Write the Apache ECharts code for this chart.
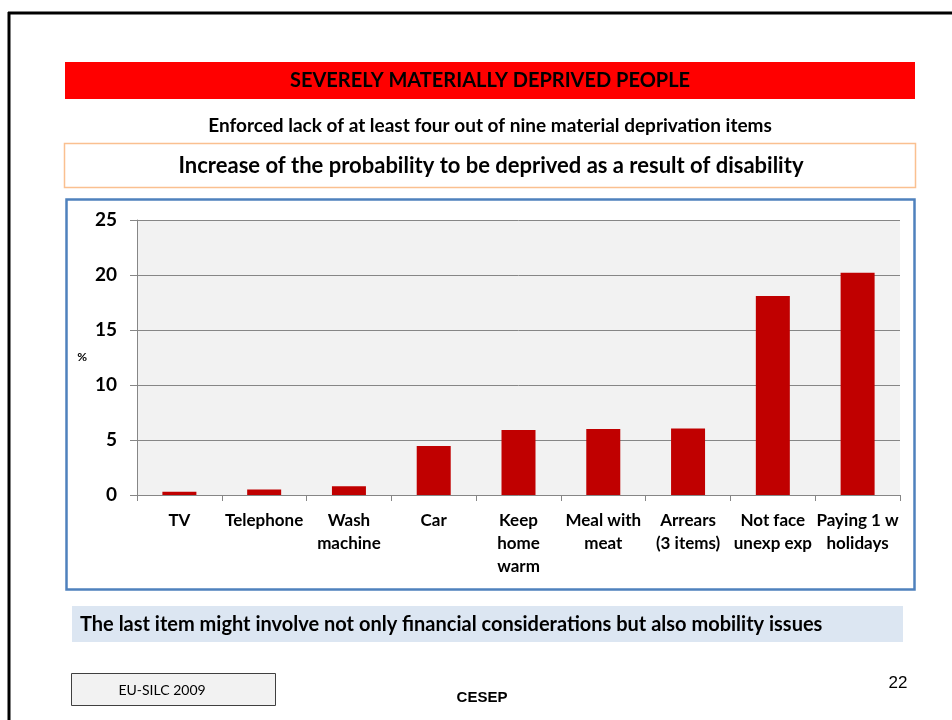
<!DOCTYPE html>
<html>
<head>
<meta charset="utf-8">
<script src="https://cdn.jsdelivr.net/npm/echarts@6/dist/echarts.min.js"></script>
<style>
html,body{margin:0;padding:0;background:#fff;}
#chart{width:952px;height:720px;}
</style>
</head>
<body>
<div id="chart"></div>
<script>
var categories = ['TV', 'Telephone', 'Wash\nmachine', 'Car', 'Keep\nhome\nwarm', 'Meal with\nmeat', 'Arrears\n(3 items)', 'Not face\nunexp exp', 'Paying 1 w\nholidays'];
var values = [0.3, 0.5, 0.8, 4.45, 5.9, 6.0, 6.05, 18.1, 20.2];
var yTicks = [0, 5, 10, 15, 20, 25];

var FONT = 'Lato, "Open Sans", sans-serif';
var chart = echarts.init(document.getElementById('chart'), null, {renderer: 'canvas'});
chart.setOption({
  backgroundColor: '#ffffff',
  animation: false,
  grid: {left: 137, right: 52, top: 220, bottom: 225, show: true, backgroundColor: '#f2f2f2', borderWidth: 0},
  xAxis: {
    type: 'category',
    data: categories,
    axisLine: {lineStyle: {color: '#868686', width: 1}},
    axisTick: {show: true, length: 6, lineStyle: {color: '#868686'}},
    axisLabel: {interval: 0, color: '#000', fontWeight: 'bold', fontSize: 17, fontFamily: FONT, lineHeight: 23, margin: 14}
  },
  yAxis: {
    type: 'value',
    min: yTicks[0], max: yTicks[yTicks.length - 1], interval: 5,
    name: '%',
    nameLocation: 'middle',
    nameRotate: 0,
    nameGap: 50,
    nameTextStyle: {color: '#000', fontWeight: 'bold', fontSize: 12, fontFamily: FONT},
    axisLine: {show: true, lineStyle: {color: '#868686', width: 1}},
    axisTick: {show: true, length: 7, lineStyle: {color: '#868686'}},
    splitLine: {lineStyle: {color: '#868686', width: 1}},
    axisLabel: {color: '#000', fontWeight: 'bold', fontSize: 19, fontFamily: FONT, margin: 20}
  },
  series: [{
    type: 'bar',
    data: values,
    barWidth: 34,
    itemStyle: {color: '#C00000'}
  }],
  graphic: [
    // slide border (top and left)
    {type: 'line', shape: {x1: 8, y1: 13, x2: 952, y2: 13}, style: {stroke: '#000', lineWidth: 3}, z: 10},
    {type: 'line', shape: {x1: 9, y1: 12, x2: 9, y2: 720}, style: {stroke: '#000', lineWidth: 3}, z: 10},
    // red banner
    {type: 'rect', shape: {x: 65, y: 62, width: 850, height: 37}, style: {fill: '#FF0000'}},
    {type: 'text', x: 490, y: 81, style: {text: 'SEVERELY MATERIALLY DEPRIVED PEOPLE', font: 'bold 20px ' + FONT, fill: '#000', textAlign: 'center', textVerticalAlign: 'middle'}},
    {type: 'text', x: 490, y: 126, style: {text: 'Enforced lack of at least four out of nine material deprivation items', font: 'bold 19px ' + FONT, fill: '#000', textAlign: 'center', textVerticalAlign: 'middle'}},
    // orange box
    {type: 'rect', shape: {x: 64.5, y: 143.5, width: 851, height: 44}, style: {fill: '#fff', stroke: '#FAC090', lineWidth: 1.5}},
    {type: 'text', x: 491, y: 166, style: {text: 'Increase of the probability to be deprived as a result of disability', font: 'bold 22px ' + FONT, fill: '#000', textAlign: 'center', textVerticalAlign: 'middle'}},
    // blue chart frame
    {type: 'rect', shape: {x: 66.5, y: 199.5, width: 848, height: 390}, style: {fill: 'none', stroke: '#4F81BD', lineWidth: 2.5}, z: 5},
    // light blue note
    {type: 'rect', shape: {x: 72, y: 606, width: 831, height: 36}, style: {fill: '#DCE6F2'}},
    {type: 'text', x: 80, y: 625, style: {text: 'The last item might involve not only financial considerations but also mobility issues', font: 'bold 20px ' + FONT, fill: '#000', textAlign: 'left', textVerticalAlign: 'middle'}},
    // footer
    {type: 'rect', shape: {x: 71.5, y: 673.5, width: 204, height: 32}, style: {fill: '#F2F2F2', stroke: '#404040', lineWidth: 1}},
    {type: 'text', x: 162, y: 690, style: {text: 'EU-SILC 2009', font: '14px ' + FONT, fill: '#000', textAlign: 'center', textVerticalAlign: 'middle'}},
    {type: 'text', x: 482, y: 698, style: {text: 'CESEP', font: 'bold 15px "Liberation Sans", Arial, sans-serif', fill: '#000', textAlign: 'center', textVerticalAlign: 'middle'}},
    {type: 'text', x: 898, y: 683, style: {text: '22', font: '17px "Liberation Sans", Arial, sans-serif', fill: '#000', textAlign: 'center', textVerticalAlign: 'middle'}}
  ]
});
</script>
</body>
</html>
